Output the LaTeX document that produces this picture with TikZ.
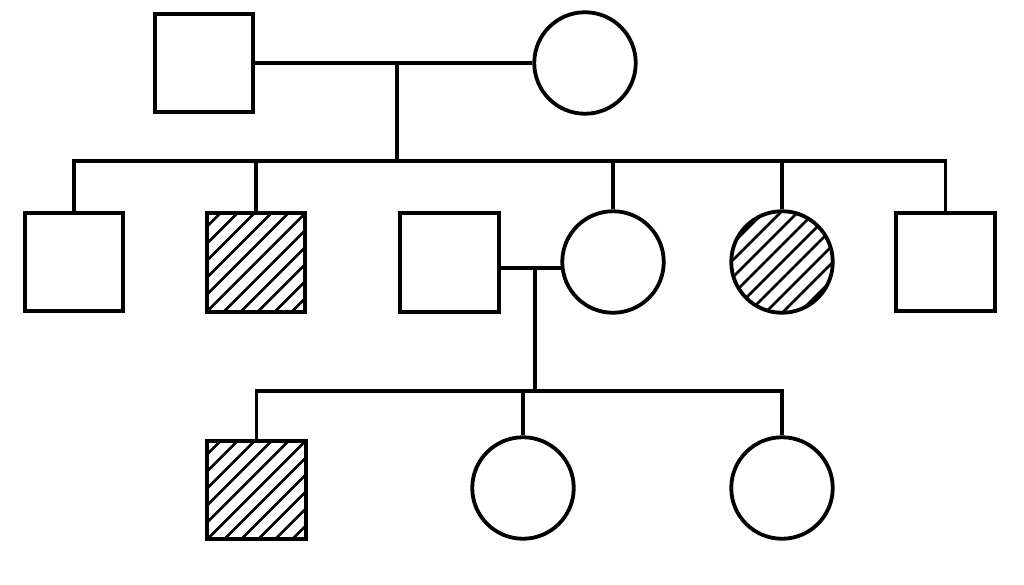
\documentclass[tikz,border=0pt]{standalone}
\begin{document}
\begin{tikzpicture}[x=1pt,y=-1pt,line width=3.8pt,line join=miter,
  male/.style={draw,rectangle,minimum size=98.5pt,inner sep=0pt},
  female/.style={draw,circle,minimum size=101.5pt,inner sep=0pt},
  hatched/.style={path picture={
    \foreach \i in {-170,-153,...,170}
      \draw[line width=2.8pt] ([xshift=\i pt]path picture bounding box.south west) -- ++(160pt,160pt);}},
  link/.style={line width=3.8pt}]
\useasboundingbox (0,0) rectangle (1024,585);
% generation 1
\node[male] (f1) at (204,63) {};
\node[female] (m1) at (585,63) {};
% generation 2
\node[male] (a) at (74,262) {};
\node[male,hatched] (b) at (256,262.5) {};
\node[male] (c) at (449.5,262.5) {};
\node[female] (d) at (613,262) {};
\node[female,hatched] (e) at (782,262) {};
\node[male] (g) at (945.5,262) {};
% generation 3
\node[male,hatched] (h) at (256.5,490) {};
\node[female] (i) at (523,488) {};
\node[female] (j) at (782,488) {};
% connectors
\coordinate (p1) at (397,63);
\coordinate (s1) at (397,161);
\coordinate (p2) at (535,268);
\coordinate (s2) at (535,391);
\draw[link] (f1) -- (m1);
\draw[link] (p1) -- (s1);
\draw[link] (a.north) |- (s1) -| (g.north);
\draw[link] (b.north) -- (b.north |- s1);
\draw[link] (d.north) -- (d.north |- s1);
\draw[link] (e.north) -- (e.north |- s1);
\draw[link] (c.east |- p2) -- ([xshift=1.5pt]d.west |- p2);
\draw[link] (p2) -- (s2);
\draw[link] (h.north) |- (s2) -| (j.north);
\draw[link] (i.north) -- (i.north |- s2);
\end{tikzpicture}
\end{document}
